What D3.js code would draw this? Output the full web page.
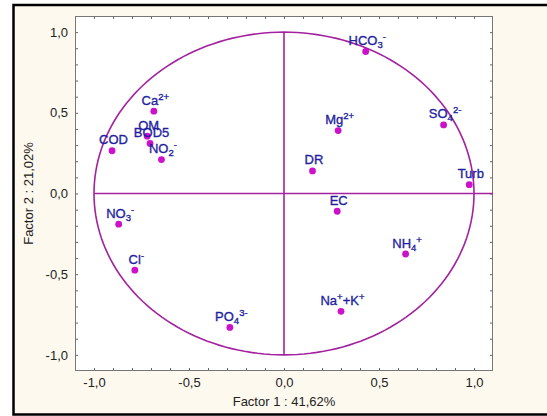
<!DOCTYPE html>
<html>
<head>
<meta charset="utf-8">
<script src="https://cdn.jsdelivr.net/npm/d3@7"></script>
<style>
  html, body { margin: 0; padding: 0; background: #ffffff; }
  svg { display: block; }
  text { font-family: "Liberation Sans", Arial, sans-serif; }
</style>
</head>
<body>
<svg id="chart" width="547" height="416"></svg>
<script>
// Variable names (markup: _{..} subscript, ^{..} superscript)
const variables = [
  "HCO_{3}^{-}", "SO_{4}^{2-}", "Turb", "Mg^{2+}", "DR", "EC",
  "NH_{4}^{+}", "Na^{+}+K^{+}", "PO_{4}^{3-}", "Cl^{-}", "NO_{3}^{-}",
  "COD", "Ca^{2+}", "OM", "BOD5", "NO_{2}^{-}"
];
// Loadings on factor 1 and factor 2
const factor1 = [0.43, 0.84, 0.975, 0.285, 0.15, 0.28, 0.64, 0.30, -0.285, -0.785, -0.87, -0.905, -0.685, -0.72, -0.705, -0.645];
const factor2 = [0.88, 0.425, 0.055, 0.39, 0.14, -0.11, -0.375, -0.73, -0.83, -0.475, -0.19, 0.265, 0.51, 0.355, 0.31, 0.21];

const majorTicks = [-1.0, -0.5, 0.0, 0.5, 1.0];
const minorTicks = d3.range(-10, 11).map(i => i / 10);
const xTitle = "Factor 1 : 41,62%";
const yTitle = "Factor 2 : 21,02%";

const svg = d3.select("#chart");
const plot = { left: 75, right: 493, top: 16, bottom: 371 };

const x = d3.scaleLinear().domain([-1.1, 1.1]).range([plot.left, plot.right]);
const y = d3.scaleLinear().domain([-1.1, 1.1]).range([plot.bottom, plot.top]);

const locale = d3.formatLocale({ decimal: ",", thousands: ".", grouping: [3], currency: ["", ""], minus: "-" });
const fmt = locale.format(".1f");
const isMajor = v => majorTicks.some(m => Math.abs(m - v) < 1e-9);

// Panel background and outer border
svg.append("rect")
  .attr("x", 13.5).attr("y", 5).attr("width", 600).attr("height", 409.5)
  .attr("fill", "#fdf9ee").attr("stroke", "#000").attr("stroke-width", 2.5);

// Plot area
svg.append("rect")
  .attr("x", plot.left).attr("y", plot.top)
  .attr("width", plot.right - plot.left).attr("height", plot.bottom - plot.top)
  .attr("fill", "#ffffff");

// Axes with inward ticks every 0.1
function styleAxis(g) {
  g.select(".domain").remove();
  g.selectAll(".tick line").attr("stroke", "#666");
  g.selectAll(".tick text").attr("fill", "#222").attr("font-size", 13)
    .attr("font-family", "'Liberation Sans', Arial, sans-serif");
}
const tickFmt = v => isMajor(v) ? fmt(v) : "";

svg.append("g").attr("transform", `translate(0,${plot.bottom})`)
  .call(d3.axisBottom(x).tickValues(minorTicks).tickSize(-3).tickPadding(7).tickFormat(tickFmt))
  .call(styleAxis);
svg.append("g").attr("transform", `translate(0,${plot.top})`)
  .call(d3.axisTop(x).tickValues(minorTicks).tickSize(-3).tickFormat(""))
  .call(styleAxis);
svg.append("g").attr("transform", `translate(${plot.left},0)`)
  .call(d3.axisLeft(y).tickValues(minorTicks).tickSize(-3).tickPadding(7).tickFormat(tickFmt))
  .call(styleAxis);
svg.append("g").attr("transform", `translate(${plot.right},0)`)
  .call(d3.axisRight(y).tickValues(minorTicks).tickSize(-3).tickFormat(""))
  .call(styleAxis);

// Plot frame
svg.append("rect")
  .attr("x", plot.left + 0.5).attr("y", plot.top + 0.5)
  .attr("width", plot.right - plot.left - 1).attr("height", plot.bottom - plot.top - 1)
  .attr("fill", "none").attr("stroke", "#777").attr("stroke-width", 1);

// Unit correlation circle and reference lines
const circleColor = "#a3229f";
const circlePts = d3.range(0, 361, 2).map(a => [Math.cos(a * Math.PI / 180), Math.sin(a * Math.PI / 180)]);
svg.append("path")
  .attr("d", d3.line().x(d => x(d[0])).y(d => y(d[1]))(circlePts) + "Z")
  .attr("fill", "none").attr("stroke", circleColor).attr("stroke-width", 1.6);
svg.append("line")
  .attr("x1", x(-1)).attr("x2", x(1.1)).attr("y1", y(0)).attr("y2", y(0))
  .attr("stroke", circleColor).attr("stroke-width", 1.6);
svg.append("line")
  .attr("x1", x(0)).attr("x2", x(0)).attr("y1", y(1)).attr("y2", y(-1))
  .attr("stroke", circleColor).attr("stroke-width", 1.6);

// Points
const data = variables.map((v, i) => ({ name: v, f1: factor1[i], f2: factor2[i] }));
svg.append("g").selectAll("circle").data(data).join("circle")
  .attr("cx", d => x(d.f1)).attr("cy", d => y(d.f2)).attr("r", 3.4)
  .attr("fill", "#cc10cc");

// Labels with sub/superscripts
function renderLabel(textSel, label) {
  const tokens = label.match(/(_\{[^}]*\}|\^\{[^}]*\}|[^_^]+)/g);
  let shift = 0;
  tokens.forEach(t => {
    let target = 0, size = 13, content = t;
    if (t.startsWith("_{")) { target = 3; size = 9.5; content = t.slice(2, -1); }
    else if (t.startsWith("^{")) { target = -5; size = 9.5; content = t.slice(2, -1); }
    textSel.append("tspan").attr("dy", target - shift).attr("font-size", size).text(content);
    shift = target;
  });
}
svg.append("g").selectAll("text").data(data).join("text")
  .attr("x", d => x(d.f1) + 1.5).attr("y", d => y(d.f2) - 6.5)
  .attr("text-anchor", "middle").attr("fill", "#1f1fa0").attr("font-size", 13)
  .attr("stroke", "#1f1fa0").attr("stroke-width", 0.35)
  .each(function (d) { renderLabel(d3.select(this), d.name); });

// Axis titles
svg.append("text")
  .attr("x", (plot.left + plot.right) / 2).attr("y", 406)
  .attr("text-anchor", "middle").attr("font-size", 13).attr("fill", "#222")
  .text(xTitle);
svg.append("text")
  .attr("transform", `translate(33,${(plot.top + plot.bottom) / 2}) rotate(-90)`)
  .attr("text-anchor", "middle").attr("font-size", 13).attr("fill", "#222")
  .text(yTitle);
</script>
</body>
</html>
